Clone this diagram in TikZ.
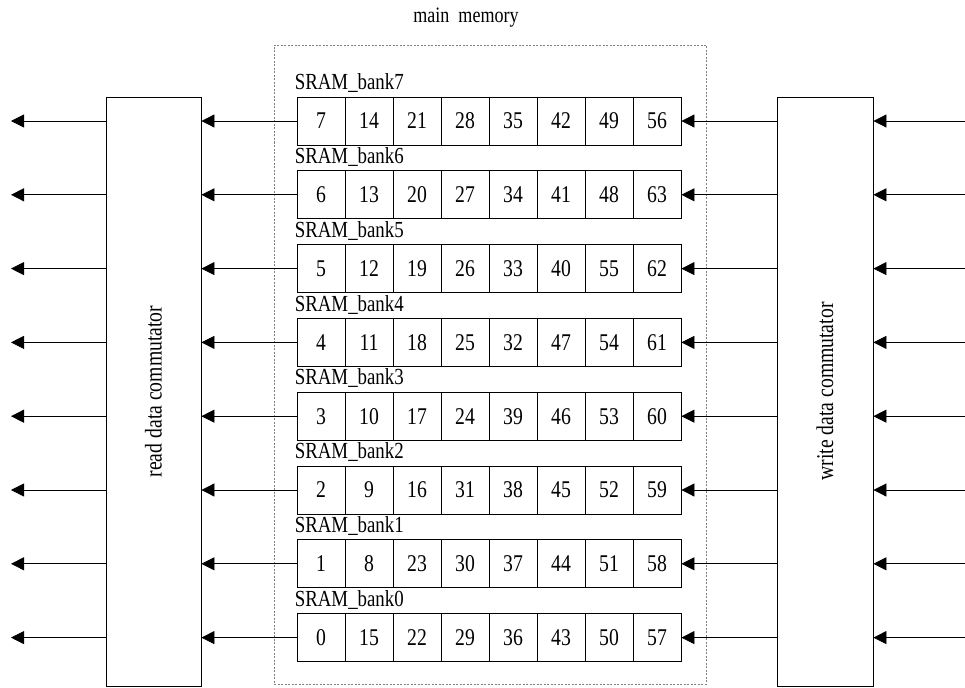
\documentclass[tikz,border=0pt]{standalone}
\usepackage{fontspec}
\setmainfont[FakeStretch=0.82]{Liberation Serif}
\usetikzlibrary{arrows.meta,positioning}

\begin{document}
\begin{tikzpicture}[
  x=1pt,y=-1pt,
  cell/.style={draw,line width=0.8pt,minimum width=48pt,minimum height=48pt,
    inner sep=0pt,font=\fontsize{24}{27}\selectfont},
  bank/.style={anchor=base west,inner sep=0pt,font=\fontsize{23}{26}\selectfont},
  commu/.style={draw,line width=0.8pt,minimum height=589pt},
  vtext/.style={rotate=90,font=\fontsize{24}{27}\selectfont},
  arr/.style={-{Triangle[length=13pt,width=13pt]},line width=0.8pt}
]
  \useasboundingbox (0,0) rectangle (965,687);
  % main memory
  \node[draw=gray,dash pattern=on 2pt off 1.5pt,line width=0.8pt,
    minimum width=432pt,minimum height=639pt] (mem) at (490,364.5) {};
  \node[font=\fontsize{22}{25}\selectfont] (memlbl) at (466,18) {main\ \ memory};
  % commutators
  \node[commu,minimum width=95pt] (rd) at (153.5,391.5) {};
  \node[vtext] (rdlbl) at (rd.center) {read data commutator};
  \node[commu,minimum width=96pt] (wr) at (825,391.5) {};
  \node[vtext] (wrlbl) at (wr.center) {write data commutator};
  % SRAM banks
  \foreach \r/\vals in {7/{7,14,21,28,35,42,49,56},6/{6,13,20,27,34,41,48,63},
      5/{5,12,19,26,33,40,55,62},4/{4,11,18,25,32,47,54,61},
      3/{3,10,17,24,39,46,53,60},2/{2,9,16,31,38,45,52,59},
      1/{1,8,23,30,37,44,51,58},0/{0,15,22,29,36,43,50,57}}{
    \pgfmathsetmacro\yy{121+73.8*(7-\r)}
    \foreach \v [count=\c] in \vals
      \node[cell] (b\r-\c) at ({321+48*(\c-1)},\yy) {\v};
    \node[bank] (l\r) at ([xshift=-2pt,yshift=7pt]b\r-1.north west) {SRAM\_bank\r};
    \coordinate (lo\r) at (11,\yy);
    \coordinate (ri\r) at (965,\yy);
    \draw[arr] (b\r-1.west) -- (rd.east |- b\r-1.west);
    \draw[arr] (rd.west |- b\r-1.west) -- (lo\r);
    \draw[arr] (wr.west |- b\r-8.east) -- (b\r-8.east);
    \draw[arr] (ri\r) -- (wr.east |- b\r-8.east);
  }
\end{tikzpicture}
\end{document}
